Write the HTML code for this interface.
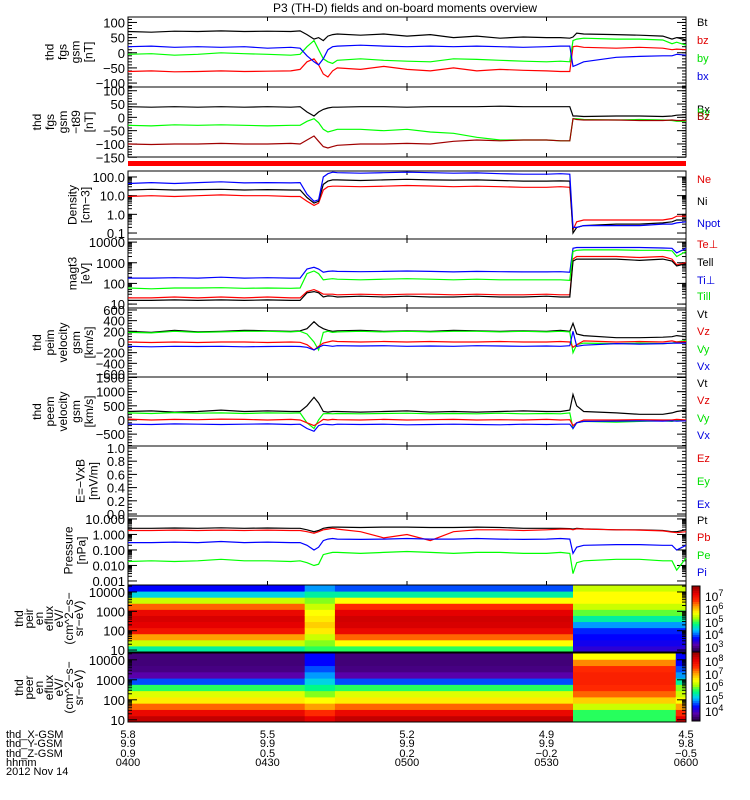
<!DOCTYPE html>
<html><head><meta charset="utf-8"><style>
body{margin:0;background:#fff;width:750px;height:800px;overflow:hidden}
svg{display:block;font-family:"Liberation Sans",sans-serif}
</style></head><body>
<svg id="chart" width="750" height="800" viewBox="0 0 750 800" xmlns="http://www.w3.org/2000/svg">
<text x="405" y="12" font-size="12" text-anchor="middle">P3 (TH-D) fields and on-board moments overview</text>
<g id="layer"></g>
</svg>
<script>
const times=[0,5,10,15,20,25,30,35,37,38.5,40,41,42,43,44,45,50,55,60,65,70,75,80,85,90,93,95,95.7,96.5,98,105,110,115,117,118,120];
const p1Bt=[70,68,71,70,72,70,71,70,72,60,45,50,40,55,60,62,58,62,55,60,50,55,48,52,50,50,48,52,65,62,60,58,55,45,50,42];
const p1bz=[-62,-60,-63,-62,-60,-62,-61,-60,-55,-30,-20,-40,-70,-80,-60,-50,-55,-45,-55,-60,-50,-60,-55,-58,-60,-62,-62,20,22,18,15,18,15,10,12,10];
const p1by=[-5,-3,-8,-5,0,-3,-5,-8,-5,20,40,10,-20,-30,-35,-25,-20,-25,-28,-30,-20,-22,-25,-28,-30,-28,-30,40,45,48,45,45,42,30,35,25];
const p1bx=[20,22,18,20,18,20,15,18,15,-10,-30,-40,-20,10,20,22,25,22,20,22,20,22,20,18,20,22,22,-45,-40,-30,-15,-12,-10,-10,-5,-8];
const p2Bx=[40,38,40,38,40,38,40,38,40,20,5,20,30,35,38,38,40,40,38,40,40,40,42,40,40,40,40,5,5,3,5,5,3,5,8,10];
const p2By=[-30,-32,-28,-30,-28,-30,-32,-30,-30,-15,-5,-20,-45,-55,-50,-45,-45,-50,-45,-55,-60,-75,-85,-85,-85,-88,-88,-5,-5,-8,-10,-8,-10,-12,-15,-15];
const p2Bz=[-100,-102,-100,-100,-98,-100,-100,-98,-100,-85,-70,-90,-110,-115,-110,-105,-100,-100,-98,-100,-90,-85,-88,-85,-85,-88,-88,-5,-8,-10,-10,-12,-12,-10,-12,-12];
const nNe=[9,10,9,10,11,10,10,9,9,5,3,4,20,30,32,32,30,32,35,33,30,32,30,28,28,30,28,0.15,0.4,0.5,0.5,0.5,0.5,0.6,0.8,0.8];
const nNi=[20,22,20,21,22,20,21,20,20,8,4,5,40,60,70,70,65,70,75,70,68,70,65,60,60,62,60,0.1,0.2,0.25,0.3,0.3,0.35,0.4,0.5,0.5];
const nNpot=[45,50,45,50,55,48,50,48,50,12,5,6,100,150,180,170,160,170,180,170,160,165,150,140,140,150,140,0.2,0.2,0.25,0.25,0.25,0.3,0.3,0.35,0.4];
const tTeperp=[20,20,22,20,22,20,22,20,20,40,50,40,30,30,30,28,30,28,30,30,28,30,28,28,30,28,28,1500,2000,2000,2000,1800,2000,1500,800,1000];
const tTepar=[15,15,16,15,16,15,16,15,15,35,40,35,22,25,24,22,24,22,24,22,22,24,22,22,24,22,22,1200,1500,1500,1500,1300,1500,1200,700,900];
const tTiperp=[180,180,190,180,200,180,190,180,180,500,600,500,350,380,400,380,370,380,400,380,360,380,370,360,360,370,350,5000,5500,5500,5500,5500,5200,5000,3000,5000];
const tTipar=[60,55,60,60,62,58,60,58,60,300,400,300,150,160,170,160,150,160,170,160,150,160,150,150,150,150,140,3500,4000,4200,4200,4000,4000,3800,2000,3500];
const v1Vt=[200,180,220,190,200,220,210,200,210,250,380,300,250,220,200,210,220,200,210,200,220,210,200,210,200,220,200,350,150,120,80,80,90,100,120,100];
const v1Vz=[0,-10,0,-10,0,0,-10,0,-5,-50,-150,-80,-20,0,20,10,0,10,0,10,0,0,10,0,0,10,0,-100,-50,20,0,10,0,20,0,10];
const v1Vy=[180,170,200,180,190,200,200,190,200,150,0,-150,180,200,180,190,200,190,200,190,200,200,190,200,190,200,190,-200,-50,-20,-30,-20,-30,-20,0,30];
const v1Vx=[-80,-90,-80,-85,-80,-90,-85,-80,-85,-100,-150,-100,-60,-70,-80,-70,-75,-70,-80,-75,-80,-70,-75,-80,-75,-80,-70,200,-80,-60,-30,-40,-30,-20,-20,-20];
const v2Vt=[300,320,280,300,350,300,320,300,300,500,800,600,300,280,300,300,280,300,320,280,300,280,300,320,300,300,350,900,500,300,250,200,200,250,300,350];
const v2Vz=[30,0,20,10,30,20,0,20,0,-100,-200,-100,20,0,20,10,0,20,0,10,20,0,10,0,20,0,10,-200,-100,0,0,10,0,0,20,0];
const v2Vy=[250,230,260,240,250,230,250,240,250,-100,-300,0,220,230,220,230,220,230,240,220,230,220,240,220,230,220,250,-300,-100,-50,-80,-50,-30,-50,-20,0];
const v2Vx=[-150,-160,-140,-150,-160,-150,-140,-160,-150,-300,-400,-200,-150,-160,-170,-150,-160,-150,-170,-160,-150,-160,-170,-150,-160,-150,-150,-300,-100,-50,-40,-30,-40,-30,-40,-30];
const pPt=[2.5,2.5,2.6,2.5,2.7,2.5,2.6,2.5,2.5,2,1.5,1.8,2.5,2.8,3,3,2.8,3,3,2.8,2.8,3,2.8,2.5,2.5,2.5,2.4,2.2,2.5,2.3,2,2,1.8,1.5,1.5,2];
const pPb=[1.8,1.8,1.9,1.8,1.9,1.8,1.9,1.8,1.8,1.5,1.2,1.5,2,2.2,2.5,2.2,1.5,0.6,1,0.4,1.5,2,2,1.8,2,2.2,2.2,2,2.3,2.2,2,1.9,1.7,1.4,1.3,1.5];
const pPe=[0.018,0.02,0.018,0.02,0.025,0.02,0.02,0.018,0.02,0.015,0.01,0.012,0.05,0.06,0.07,0.07,0.06,0.07,0.08,0.07,0.06,0.07,0.07,0.06,0.06,0.07,0.06,0.003,0.015,0.02,0.025,0.025,0.02,0.02,0.005,0.03];
const pPi=[0.3,0.3,0.32,0.3,0.35,0.3,0.32,0.3,0.3,0.2,0.1,0.15,0.4,0.5,0.55,0.5,0.48,0.5,0.55,0.5,0.5,0.55,0.5,0.48,0.5,0.55,0.5,0.06,0.15,0.2,0.22,0.22,0.2,0.2,0.1,0.2];
const ionEdges=[0,38,44.5,95.7,120];
const ionProfiles=[[0.4,0.55,0.7,0.85,0.9,0.92,0.88,0.75,0.55,0.35,0.2],[0.45,0.5,0.55,0.62,0.65,0.62,0.6,0.55,0.5,0.4,0.3],[0.45,0.6,0.75,0.88,0.92,0.93,0.9,0.8,0.6,0.4,0.25],[0.15,0.18,0.2,0.22,0.3,0.4,0.48,0.55,0.6,0.6,0.55]];
const eleEdges=[0,38,44.5,95.7,117.8,120];
const eleProfiles=[[0.95,0.88,0.75,0.62,0.57,0.45,0.25,0.1,0.06,0.05,0.05],[0.9,0.8,0.7,0.6,0.5,0.42,0.35,0.3,0.25,0.2,0.2],[0.95,0.88,0.75,0.62,0.57,0.45,0.25,0.1,0.06,0.05,0.05],[0.45,0.45,0.55,0.65,0.75,0.8,0.82,0.82,0.8,0.72,0.6],[0.9,0.8,0.7,0.6,0.55,0.5,0.4,0.3,0.25,0.2,0.2]];
const xTickLabels=["0400","0430","0500","0530","0600"];
const xGsm=["5.8","5.5","5.2","4.9","4.5"];
const yGsm=["9.9","9.9","9.9","9.9","9.8"];
const zGsm=["0.9","0.5","0.2","-0.2","-0.5"];

const NS="http://www.w3.org/2000/svg";
const L=document.getElementById('layer');
const X0=128,X1=686;
const xs=t=>X0+t/120*(X1-X0);
function el(tag,attrs,parent){const e=document.createElementNS(NS,tag);for(const k in attrs)e.setAttribute(k,attrs[k]);(parent||L).appendChild(e);return e;}
function txt(s,x,y,opts,parent){const e=el('text',Object.assign({x:x,y:y,'font-size':11},opts||{}),parent);e.textContent=s;return e;}

function panel(name,top,bot,dom,log,ticks,minor,labels,legend,series){
  const g=el('g',{});
  
  
  const ys=v=>{const vv=log?Math.log10(Math.max(v,1e-6)):v;return bot-(vv-dom[0])/(dom[1]-dom[0])*(bot-top);};
  const box=el('rect',{x:X0,y:top,width:X1-X0,height:bot-top,fill:'none',stroke:'#000','stroke-width':1},g);
  
  
  minor.forEach(v=>{const y=ys(v);if(y<top||y>bot)return;el('line',{x1:X0,x2:X0+4,y1:y,y2:y,stroke:'#000'},g);el('line',{x1:X1-4,x2:X1,y1:y,y2:y,stroke:'#000'},g);});
  ticks.forEach(tk=>{const y=ys(tk[0]);el('line',{x1:X0,x2:X0+9,y1:y,y2:y,stroke:'#000'},g);el('line',{x1:X1-9,x2:X1,y1:y,y2:y,stroke:'#000'},g);
    const t=txt(tk[1],X0-3,y+5,{'text-anchor':'end','font-size':13},g);
    
    });
  for(let i=1;i<4;i++){const x=X0+i*(X1-X0)/4;el('line',{x1:x,x2:x,y1:top,y2:top+4,stroke:'#000'},g);el('line',{x1:x,x2:x,y1:bot-4,y2:bot,stroke:'#000'},g);}
  const cx=labels.x;const n=labels.lines.length;
  labels.lines.forEach((s,i)=>{const x=cx-(n-1)*6.5+i*13;const y=(top+bot)/2;
    const t=txt(s,x,y,{'text-anchor':'middle','font-size':12,transform:'rotate(-90 '+x+' '+y+')','dominant-baseline':'middle'},g);
    
    });
  legend.forEach((lg,i)=>{const t=txt(lg[0],697,lg[2],{fill:lg[1],'font-size':11},g);
    
    });
  series.forEach(s=>{const pts=times.map((t,i)=>xs(t).toFixed(1)+','+Math.min(bot,Math.max(top,ys(s[0][i]))).toFixed(1)).join(' ');
    const p=el('polyline',{points:pts,fill:'none',stroke:s[1],'stroke-width':1.2},g);
    
    });
}
function linMinor(a,b,s){const r=[];for(let v=a;v<=b+1e-9;v+=s)r.push(v);return r;}
function logMinor(a,b){const r=[];for(let d=a;d<b;d++)for(let k=1;k<10;k++)r.push(k*Math.pow(10,d));return r;}

panel('panel-fgs-gse',17,87,[-113,118],false,[[100,'100'],[50,'50'],[0,'0'],[-50,'−50'],[-100,'−100']],linMinor(-110,110,10),{x:70,lines:['thd','fgs','gsm','[nT]']},[['Bt','#000',26],['bz','#e00000',44],['by','#00e000',62],['bx','#0000e0',80]],[[p1Bt,'#000','line-bt'],[p1bz,'#ff0000','line-bz'],[p1by,'#00ff00','line-by'],[p1bx,'#0000ff','line-bx']]);
panel('panel-fgs-t89',87,157,[-149,114],false,[[100,'100'],[50,'50'],[0,'0'],[-50,'−50'],[-100,'−100'],[-150,'−150']],linMinor(-140,110,10),{x:64,lines:['thd','fgs','gsm','−t89','[nT]']},[['Bx','#000',113],['By','#00e000',116],['Bz','#a00000',120]],[[p2Bx,'#000','line-Bx-t89'],[p2By,'#00ff00','line-By-t89'],[p2Bz,'#a00000','line-Bz-t89']]);
panel('panel-density',171,239,[-1.32,2.32],true,[[100,'100.0'],[10,'10.0'],[1,'1.0'],[0.1,'0.1']],logMinor(-1,2),{x:80,lines:['Density','[cm−3]']},[['Ne','#e00000',183],['Ni','#000',205],['Npot','#0000e0',227]],[[nNe,'#ff0000','line-ne'],[nNi,'#000','line-ni'],[nNpot,'#0000ff','line-npot']]);
panel('panel-temperature',239,308,[0.81,4.15],true,[[10000,'10000'],[1000,'1000'],[100,'100'],[10,'10']],logMinor(1,4),{x:80,lines:['magt3','[eV]']},[['Te⊥','#e00000',248],['Tell','#000',266],['Ti⊥','#0000e0',284],['Till','#00e000',300]],[[tTeperp,'#ff0000','line-te-perp'],[tTepar,'#000','line-te-par'],[tTiperp,'#0000ff','line-ti-perp'],[tTipar,'#00ff00','line-ti-par']]);
panel('panel-peim-velocity',308,377,[-656,637],false,[[600,'600'],[400,'400'],[200,'200'],[0,'0'],[-200,'−200'],[-400,'−400'],[-600,'−600']],linMinor(-600,600,50),{x:64,lines:['thd','peim','velocity','gsm','[km/s]']},[['Vt','#000',318],['Vz','#e00000',335],['Vy','#00e000',353],['Vx','#0000e0',370]],[[v1Vt,'#000','line-vt-peim'],[v1Vy,'#00ff00','line-vy-peim'],[v1Vz,'#ff0000','line-vz-peim'],[v1Vx,'#0000ff','line-vx-peim']]);
panel('panel-peem-velocity',377,446,[-919,1518],false,[[1500,'1500'],[1000,'1000'],[500,'500'],[0,'0'],[-500,'−500']],linMinor(-900,1500,100),{x:64,lines:['thd','peem','velocity','gsm','[km/s]']},[['Vt','#000',387],['Vz','#e00000',404],['Vy','#00e000',422],['Vx','#0000e0',439]],[[v2Vt,'#000','line-vt-peem'],[v2Vy,'#00ff00','line-vy-peem'],[v2Vz,'#ff0000','line-vz-peem'],[v2Vx,'#0000ff','line-vx-peem']]);
panel('panel-efield',446,516,[-0.03,1.03],false,[[1,'1.0'],[0.8,'0.8'],[0.6,'0.6'],[0.4,'0.4'],[0.2,'0.2'],[0,'0.0']],linMinor(0,1,0.05),{x:88,lines:['E=−VxB','[mV/m]']},[['Ez','#e00000',462],['Ey','#00e000',485],['Ex','#0000e0',508]],[]);
panel('panel-pressure',516,585,[-3.26,1.19],true,[[10,'10.000'],[1,'1.000'],[0.1,'0.100'],[0.01,'0.010'],[0.001,'0.001']],logMinor(-3,1),{x:76,lines:['Pressure','[nPa]']},[['Pt','#000',524],['Pb','#e00000',541],['Pe','#00e000',559],['Pi','#0000e0',576]],[[pPt,'#000','line-pt'],[pPb,'#ff0000','line-pb'],[pPe,'#00ff00','line-pe'],[pPi,'#0000ff','line-pi']]);

const stops=[[0,[40,0,70]],[0.1,[90,0,170]],[0.2,[0,0,255]],[0.33,[0,200,255]],[0.43,[0,255,120]],[0.52,[170,255,0]],[0.6,[255,255,0]],[0.7,[255,160,0]],[0.8,[255,40,0]],[0.9,[230,0,0]],[1,[160,0,0]]];
function cmap(v){v=Math.max(0,Math.min(1,v));for(let i=1;i<stops.length;i++){if(v<=stops[i][0]){const a=stops[i-1],b=stops[i];const f=(v-a[0])/(b[0]-a[0]);const c=a[1].map((x,k)=>Math.round(x+(b[1][k]-x)*f));return 'rgb('+c.join(',')+')';}}return 'rgb(160,0,0)';}

function spec(name,top,bot,dom,edges,profiles,labels,cbLabels,cbTop,cbBot){
  const g=el('g',{});
  
  
  const nb=profiles[0].length;const bh=(bot-top)/nb;
  profiles.forEach((pr,s)=>{pr.forEach((v,b)=>{const r=el('rect',{x:xs(edges[s]),y:bot-(b+1)*bh,width:xs(edges[s+1])-xs(edges[s])+0.5,height:bh+0.5,fill:cmap(v)},g);
    
    });});
  el('rect',{x:X0,y:top,width:X1-X0,height:bot-top,fill:'none',stroke:'#000'},g);
  const ys=lv=>bot-(lv-dom[0])/(dom[1]-dom[0])*(bot-top);
  [[4,'10000'],[3,'1000'],[2,'100'],[1,'10']].forEach(tk=>{const y=ys(tk[0]);el('line',{x1:X0,x2:X0+9,y1:y,y2:y,stroke:'#000'},g);el('line',{x1:X1-9,x2:X1,y1:y,y2:y,stroke:'#000'},g);
    const t=txt(tk[1],X0-3,y+5,{'text-anchor':'end','font-size':13},g);
    
    });
  for(let d=1;d<5;d++)for(let k=2;k<10;k++){const y=ys(d+Math.log10(k));if(y<top)continue;el('line',{x1:X0,x2:X0+4,y1:y,y2:y,stroke:'#000'},g);el('line',{x1:X1-4,x2:X1,y1:y,y2:y,stroke:'#000'},g);}
  const n=labels.length;labels.forEach((s,i)=>{const x=50-(n-1)*5+i*10;const y=(top+bot)/2;
    const t=txt(s,x,y,{'text-anchor':'middle','font-size':12,transform:'rotate(-90 '+x+' '+y+')','dominant-baseline':'middle'},g);
    
    });
  const N=30;for(let i=0;i<N;i++){const r=el('rect',{x:692,y:cbBot-(i+1)*(cbBot-cbTop)/N,width:8,height:(cbBot-cbTop)/N+0.5,fill:cmap(i/(N-1))},g);
    
    }
  el('rect',{x:692,y:cbTop,width:8,height:cbBot-cbTop,fill:'none',stroke:'#000'},g);
  cbLabels.forEach(c=>{const t=txt('10',705,c[1],{'font-size':12},g);const sp=el('tspan',{dy:-5,'font-size':9},t);sp.textContent=c[0];
    
    });
}
spec('spectrogram-ion',585,652,[0.9,4.36],ionEdges,ionProfiles,['thd','peir','en','eflux','eV/','(cm^2−s−','sr−eV)'],[['7',601],['6',614],['5',627],['4',639],['3',652]],586,652);
spec('spectrogram-electron',653,722,[0.89,4.34],eleEdges,eleProfiles,['thd','peer','en','eflux','eV/','(cm^2−s−','sr−eV)'],[['8',666],['7',679],['6',691],['5',704],['4',716]],652,721);

const gb=el('g',{});


[['thd_X-GSM',738],['thd_Y-GSM',747],['thd_Z-GSM',757],['hhmm',766],['2012 Nov 14',775]].forEach(r=>{const t=txt(r[0],6,r[1],{'font-size':11},gb);
  
  });
xTickLabels.forEach((lab,i)=>{const x=X0+i*(X1-X0)/4;
  [[xGsm[i],738],[yGsm[i],747],[zGsm[i].replace('-','−'),757],[lab,766]].forEach(r=>{const t=txt(r[0],x,r[1],{'font-size':11,'text-anchor':'middle'},gb);
    
    });});
const qb=el('rect',{x:128,y:161,width:558,height:5,fill:'#ff0000'});


</script>
</body></html>
